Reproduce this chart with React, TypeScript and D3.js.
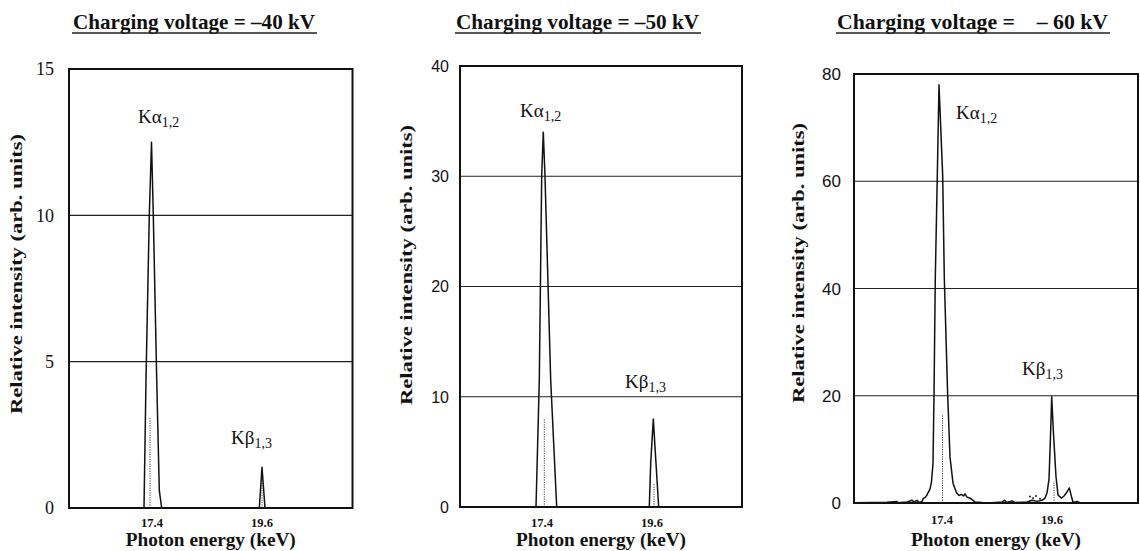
import React from "react";
import * as d3 from "d3";

// ---------- data ----------
const titles = ["Charging voltage = \u201340 kV", "Charging voltage = \u201350 kV", "Charging voltage =    \u2013 60 kV"];

const yTicks40 = [0, 5, 10, 15];
const yTicks50 = [0, 10, 20, 30, 40];
const yTicks60 = [0, 20, 40, 60, 80];
const xTickLabels = [17.4, 19.6];

// [photon energy keV, relative intensity]
const spectrum40: [number, number][] = [
  [15.74, 0], [17.24, 0], [17.28, 4.4], [17.346, 10], [17.39, 12.5], [17.426, 10],
  [17.494, 4.4], [17.546, 0.6], [17.594, 0], [19.546, 0], [19.6, 1.39], [19.66, 0], [21.41, 0],
];
const spectrum50: [number, number][] = [
  [15.76, 0], [17.28, 0], [17.346, 11.5], [17.394, 30], [17.426, 34], [17.46, 30],
  [17.574, 11.5], [17.694, 0], [19.546, 0], [19.574, 3.96], [19.626, 7.98], [19.68, 3.96],
  [19.734, 0], [21.4, 0],
];
const spectrum60: [number, number][] = [
  [15.64, 0.05], [16.0, 0.1], [16.3, 0.15], [16.5, 0.3], [16.52, 0.05], [16.7, 0.2], [16.8, 0.5],
  [16.84, 0.2], [16.9, 0.5], [16.95, 0.1], [17.0, 0.3], [17.03, 0.9], [17.06, 1.0], [17.1, 1.5],
  [17.12, 1.9], [17.16, 2.6], [17.19, 4], [17.22, 7.4], [17.24, 20], [17.266, 42], [17.306, 61],
  [17.34, 78], [17.414, 61], [17.446, 42], [17.514, 20], [17.56, 8.6], [17.62, 3.7], [17.69, 1.9],
  [17.74, 1.4], [17.79, 1.6], [17.83, 1.3], [17.86, 1.7], [17.9, 1.1], [17.96, 0.9], [18.06, 0.2],
  [18.2, 0.1], [18.4, 0.05], [18.6, 0.2], [18.65, 0.5], [18.7, 0.1], [18.8, 0.4], [18.85, 0.1],
  [19.1, 0.2], [19.2, 0.5], [19.3, 0.3], [19.4, 0.5], [19.46, 0.9], [19.5, 1.9], [19.54, 4.4],
  [19.574, 13.6], [19.594, 19.8], [19.626, 13.6], [19.68, 4.9], [19.72, 1.5], [19.79, 0.9],
  [19.84, 1.3], [19.89, 1.9], [19.946, 2.8], [19.99, 1.2], [20.02, 0.1], [20.1, 0.3],
  [20.15, 0.1], [20.5, 0.05], [21.32, 0.05],
];
// scattered dots near Kβ in the -60 kV spectrum
const specks60: [number, number][] = [[19.16, 1.2], [19.22, 0.9], [19.28, 1.3], [19.36, 0.8]];

// dotted reference lines [energy, height]
const lines40: [number, number][] = [[17.36, 3.1], [19.6, 1.0]];
const lines50: [number, number][] = [[17.446, 8.0], [19.64, 2.1]];
const lines60: [number, number][] = [[17.41, 16.4], [19.64, 4.1]];

// ---------- layout ----------
type PanelCfg = {
  box: { l: number; r: number; t: number; b: number };
  xDomain: [number, number];
  yMax: number;
  yTicks: number[];
  grid: number[];
  spectrum: [number, number][];
  lines: [number, number][];
  specks?: [number, number][];
  title: string;
  titleX: number;
  titleW: number;
  tickFont: string;
  tickSize: number;
  tickEnd: number;
  xTickBase: number;
  ka: [number, number];
  kb: [number, number];
  yLabelX: number;
  yLabelC: number;
};

const panels: PanelCfg[] = [
  {
    box: { l: 69, r: 352.5, t: 69, b: 508 }, xDomain: [15.74, 21.41], yMax: 15,
    yTicks: yTicks40, grid: [5, 10], spectrum: spectrum40, lines: lines40,
    title: titles[0], titleX: 73, titleW: 242, tickFont: "'Liberation Serif', serif", tickSize: 18,
    tickEnd: 54, xTickBase: 527, ka: [138, 123], kb: [231, 444], yLabelX: 22, yLabelC: 274,
  },
  {
    box: { l: 460, r: 742, t: 66, b: 507 }, xDomain: [15.76, 21.4], yMax: 40,
    yTicks: yTicks50, grid: [10, 20, 30], spectrum: spectrum50, lines: lines50,
    title: titles[1], titleX: 456, titleW: 243, tickFont: "'Liberation Sans', sans-serif", tickSize: 16,
    tickEnd: 449, xTickBase: 527, ka: [520, 117], kb: [625, 388], yLabelX: 412, yLabelC: 265,
  },
  {
    box: { l: 854, r: 1138, t: 74, b: 503 }, xDomain: [15.64, 21.32], yMax: 80,
    yTicks: yTicks60, grid: [20, 40, 60], spectrum: spectrum60, lines: lines60, specks: specks60,
    title: titles[2], titleX: 837, titleW: 271, tickFont: "'Liberation Sans', sans-serif", tickSize: 17,
    tickEnd: 841, xTickBase: 524, ka: [956, 119], kb: [1022, 375], yLabelX: 804, yLabelC: 263,
  },
];

const SERIF = "'Liberation Serif', 'Times New Roman', serif";

function KLabel({ x, y, greek, sub }: { x: number; y: number; greek: string; sub: string }) {
  return (
    <text x={x} y={y} fontFamily={SERIF} fontSize={19} fill="#111">
      K{greek}
      <tspan fontSize={14} dy={4}>{sub}</tspan>
    </text>
  );
}

function Panel({ p }: { p: PanelCfg }) {
  const x = d3.scaleLinear().domain(p.xDomain).range([p.box.l, p.box.r]);
  const y = d3.scaleLinear().domain([0, p.yMax]).range([p.box.b, p.box.t]);
  const line = d3.line<[number, number]>().x((d) => x(d[0])).y((d) => y(d[1])).curve(d3.curveLinear);
  const cx = (p.box.l + p.box.r) / 2;
  return (
    <g>
      {/* title */}
      <text x={p.titleX} y={29} fontFamily={SERIF} fontWeight="bold" fontSize={21}
        textLength={p.titleW} lengthAdjust="spacingAndGlyphs" fill="#111" style={{ whiteSpace: "pre" }}>
        {p.title}
      </text>
      <line x1={p.titleX - 1} x2={p.titleX + p.titleW + 2} y1={33} y2={33} stroke="#222" strokeWidth={1.3} />
      {/* grid */}
      {p.grid.map((g) => (
        <line key={g} x1={p.box.l} x2={p.box.r} y1={y(g)} y2={y(g)} stroke="#222" strokeWidth={1.1} />
      ))}
      {/* dotted lines */}
      {p.lines.map(([e, h], i) => (
        <line key={i} x1={x(e)} x2={x(e)} y1={y(0)} y2={y(h)} stroke="#444" strokeWidth={1}
          strokeDasharray="1.2,1.2" />
      ))}
      {/* spectrum */}
      <path d={line(p.spectrum) || ""} fill="none" stroke="#111" strokeWidth={1.5} strokeLinejoin="round" />
      {(p.specks || []).map(([e, v], i) => (
        <circle key={i} cx={x(e)} cy={y(v)} r={1} fill="#222" />
      ))}
      {/* frame */}
      <rect x={p.box.l} y={p.box.t} width={p.box.r - p.box.l} height={p.box.b - p.box.t}
        fill="none" stroke="#111" strokeWidth={2} />
      {/* y ticks */}
      {p.yTicks.map((t) => (
        <text key={t} x={p.tickEnd} y={y(t)} dy="0.36em" textAnchor="end" fontFamily={p.tickFont}
          fontSize={p.tickSize} fill="#111">{t}</text>
      ))}
      {/* x ticks */}
      {xTickLabels.map((t) => (
        <text key={t} x={x(t)} y={p.xTickBase} textAnchor="middle" fontFamily={SERIF} fontWeight="bold"
          fontSize={12.5} fill="#111">{t.toFixed(1)}</text>
      ))}
      <text x={cx} y={546} textAnchor="middle" fontFamily={SERIF} fontWeight="bold" fontSize={18}
        textLength={170} lengthAdjust="spacingAndGlyphs" fill="#111">Photon energy (keV)</text>
      {/* y label */}
      <text transform={`translate(${p.yLabelX},${p.yLabelC}) rotate(-90)`} textAnchor="middle"
        fontFamily={SERIF} fontWeight="bold" fontSize={16} textLength={280} lengthAdjust="spacingAndGlyphs"
        fill="#111">Relative intensity (arb. units)</text>
      <KLabel x={p.ka[0]} y={p.ka[1]} greek={"\u03B1"} sub="1,2" />
      <KLabel x={p.kb[0]} y={p.kb[1]} greek={"\u03B2"} sub="1,3" />
    </g>
  );
}

export default function App() {
  return (
    <svg width={1140} height={551} viewBox="0 0 1140 551"
      style={{ position: "absolute", left: 0, top: 0, background: "#fff" }}>
      <rect width={1140} height={551} fill="#fff" />
      {panels.map((p, i) => (
        <Panel key={i} p={p} />
      ))}
    </svg>
  );
}
